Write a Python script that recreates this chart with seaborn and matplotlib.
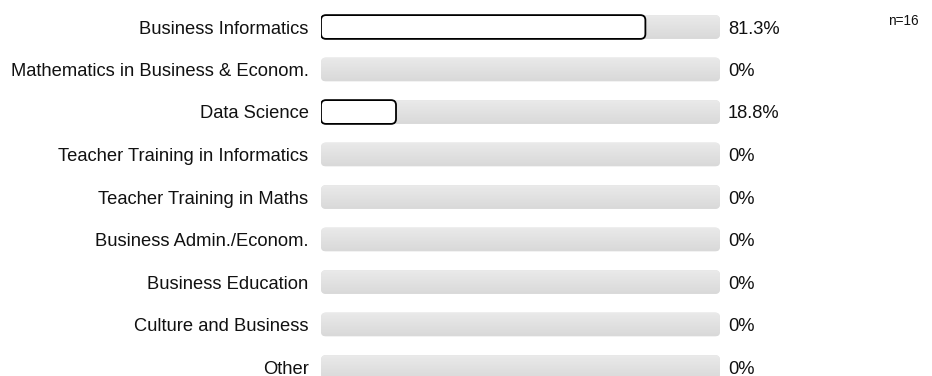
import matplotlib
matplotlib.use("Agg")
import matplotlib.pyplot as plt
import seaborn as sns
import pandas as pd
import numpy as np
from matplotlib.patches import FancyBboxPatch
from matplotlib.colors import LinearSegmentedColormap

categories = [
    "Business Informatics",
    "Mathematics in Business & Econom.",
    "Data Science",
    "Teacher Training in Informatics",
    "Teacher Training in Maths",
    "Business Admin./Econom.",
    "Business Education",
    "Culture and Business",
    "Other",
]
values = [81.3, 0, 18.8, 0, 0, 0, 0, 0, 0]
value_labels = ["81.3%", "0%", "18.8%", "0%", "0%", "0%", "0%", "0%", "0%"]
full = [100] * len(categories)
n_label = "n=16"

df = pd.DataFrame({"category": categories, "value": values, "full": full})

sns.set_style("white")
plt.rcParams["font.family"] = ["Liberation Sans", "DejaVu Sans"]

W, H = 932, 376
fig = plt.figure(figsize=(W / 100, H / 100), dpi=100)
ax = fig.add_axes([321 / W, 0, (720 - 321) / W, 1])

sns.barplot(data=df, x="full", y="category", orient="h", color="#dfdfdf",
            width=0.56, ax=ax, saturation=1)
n_bg = len(ax.patches)
sns.barplot(data=df, x="value", y="category", orient="h", color="white",
            width=0.56, ax=ax, saturation=1)

pitch = (367 - 27) / 8
ylim = (8 + (376 - 367) / pitch, -27 / pitch)

# pixels -> data units
xu = 100 / (720 - 321)
yu = 1 / pitch
aspect = yu / xu
r = 5 * xu

grad_cmap = LinearSegmentedColormap.from_list("g", ["#eaeaea", "#d9d9d9"])
grad = np.linspace(0, 1, 64).reshape(-1, 1)

patches = list(ax.patches)
for i, p in enumerate(patches):
    x, y = p.get_x(), p.get_y()
    w, h = p.get_width(), p.get_height()
    p.remove()
    if w <= 0:
        continue
    if i < n_bg:
        fb = FancyBboxPatch((x, y), w, h,
                            boxstyle=f"round,pad=0,rounding_size={r}",
                            mutation_aspect=aspect, facecolor="#e0e0e0",
                            edgecolor="none", zorder=1)
        ax.add_patch(fb)
        im = ax.imshow(grad, cmap=grad_cmap, aspect="auto",
                       extent=(x, x + w, y + h, y), origin="upper",
                       zorder=1.1, interpolation="bilinear")
        im.set_clip_path(fb)
    else:
        fb = FancyBboxPatch((x, y), w, h,
                            boxstyle=f"round,pad=0,rounding_size={r}",
                            mutation_aspect=aspect, facecolor="white",
                            edgecolor="black", linewidth=1.3, zorder=2)
        ax.add_patch(fb)

ax.set_xlim(0, 100)
ax.set_ylim(*ylim)

for i, lab in enumerate(value_labels):
    ax.text(100 + 8 * xu, i + 2 * yu, lab, ha="left", va="center",
            fontsize=13.2, color="#111111", clip_on=False)

ax.set_yticks(range(len(categories)))
ax.set_yticklabels(categories, fontsize=13.2, color="#111111")
ax.tick_params(axis="y", length=0, pad=9)
ax.set_xticks([])
ax.set_xlabel("")
ax.set_ylabel("")
for s in ax.spines.values():
    s.set_visible(False)

fig.text(919 / W, 1 - 21 / H, n_label, ha="right", va="center", fontsize=9.8,
         color="#111111")

fig.savefig("out.png", dpi=100)
